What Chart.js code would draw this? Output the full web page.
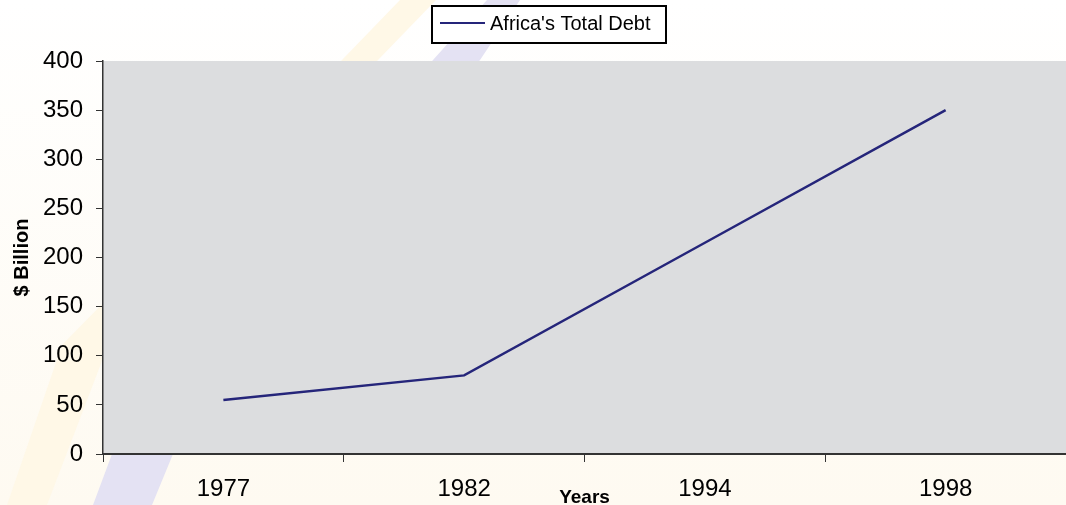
<!DOCTYPE html>
<html>
<head>
<meta charset="utf-8">
<script src="https://cdn.jsdelivr.net/npm/chart.js@4/dist/chart.umd.min.js"></script>
<style>
  html, body { margin: 0; padding: 0; background: #fff; }
  #wrap { width: 1066px; height: 505px; }
</style>
</head>
<body>
<div id="wrap"><canvas id="debtChart" width="1066" height="505"></canvas></div>
<script>
const years = ["1977", "1982", "1994", "1998"];
const totalDebt = [55, 80, 215, 350];
const seriesLabel = "Africa's Total Debt";

const FONT = "'Liberation Sans', Arial, sans-serif";

// slide background: cream gradient + two diagonal swooshes, grey plot area
const backdrop = {
  id: "backdrop",
  beforeDraw(chart) {
    const { ctx, chartArea: a, width, height } = chart;
    ctx.save();
    const g = ctx.createLinearGradient(0, 0, 0, height);
    g.addColorStop(0, "#ffffff");
    g.addColorStop(1, "#fefaf1");
    ctx.fillStyle = g;
    ctx.fillRect(0, 0, width, height);

    ctx.fillStyle = "#fff8e7";
    ctx.beginPath();
    ctx.moveTo(7, 505); ctx.lineTo(47, 505); ctx.lineTo(110, 340);
    ctx.lineTo(378, 60); ctx.lineTo(436, 0); ctx.lineTo(400, 0);
    ctx.lineTo(342, 60); ctx.lineTo(62, 345);
    ctx.closePath(); ctx.fill();

    ctx.fillStyle = "#e4e2f3";
    ctx.beginPath();
    ctx.moveTo(93, 505); ctx.lineTo(152, 505); ctx.lineTo(173, 454);
    ctx.lineTo(480, 60); ctx.lineTo(520, 0); ctx.lineTo(487, 0);
    ctx.lineTo(433, 60); ctx.lineTo(112, 454);
    ctx.closePath(); ctx.fill();

    ctx.fillStyle = "#dcdddf";
    ctx.fillRect(a.left, a.top, a.right - a.left, a.bottom - a.top);
    ctx.restore();
  },
  afterDraw(chart) {
    // boxed legend like the original
    const ctx = chart.ctx;
    const ds = chart.data.datasets[0];
    ctx.save();
    ctx.fillStyle = "#fff";
    ctx.fillRect(432, 6, 234, 37);
    ctx.strokeStyle = "#000";
    ctx.lineWidth = 2;
    ctx.strokeRect(432, 6, 234, 37);
    ctx.strokeStyle = ds.borderColor;
    ctx.lineWidth = 2;
    ctx.beginPath(); ctx.moveTo(440, 23); ctx.lineTo(485, 23); ctx.stroke();
    ctx.fillStyle = "#000";
    ctx.font = "20px " + FONT;
    ctx.textBaseline = "middle";
    ctx.fillText(ds.label, 490, 24);
    ctx.restore();
  }
};

new Chart(document.getElementById("debtChart").getContext("2d"), {
  type: "line",
  data: {
    labels: years,
    datasets: [{
      label: seriesLabel,
      data: totalDebt,
      borderColor: "#25257a",
      borderWidth: 2.5,
      pointRadius: 0,
      tension: 0,
      fill: false
    }]
  },
  options: {
    responsive: false,
    animation: false,
    layout: { padding: { top: 61, left: 0, right: 0, bottom: 0 } },
    plugins: {
      legend: { display: false },
      tooltip: { enabled: false }
    },
    scales: {
      x: {
        offset: true,
        grid: { offset: true, drawOnChartArea: false, drawTicks: true, tickLength: 8, color: "#333" },
        border: { color: "#333", width: 2 },
        ticks: { color: "#000", font: { family: FONT, size: 24 }, padding: 13, maxRotation: 0 },
        title: { display: true, text: "Years", color: "#000", font: { family: FONT, size: 19, weight: "bold", lineHeight: 0.8 }, padding: 0 },
        afterFit(scale) { scale.height = 51; }
      },
      y: {
        min: 0,
        max: 400,
        grid: { drawOnChartArea: false, drawTicks: true, tickLength: 7, color: "#333" },
        border: { color: "#333", width: 1.5 },
        ticks: { stepSize: 50, color: "#000", font: { family: FONT, size: 24 }, padding: 13 },
        title: { display: true, text: "$ Billion", color: "#000", font: { family: FONT, size: 20, weight: "bold", lineHeight: 1 }, padding: { top: 12, bottom: 0 } },
        afterFit(scale) { scale.width = 103; }
      }
    }
  },
  plugins: [backdrop]
});
</script>
</body>
</html>
